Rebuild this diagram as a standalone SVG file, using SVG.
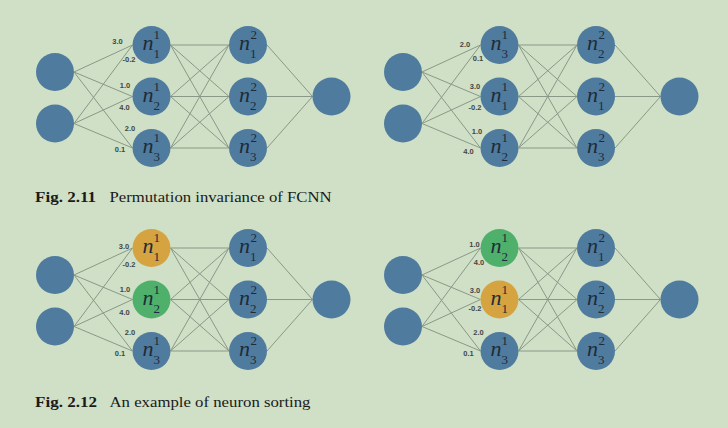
<svg xmlns="http://www.w3.org/2000/svg" xmlns:xlink="http://www.w3.org/1999/xlink" width="728" height="428" viewBox="0 0 728 428">
<style>
.bg{fill:#cfe0c6}
.b{fill:#4f7b9f}
.o{fill:#d5a441}
.g{fill:#4fb06c}
.e line{stroke:#8a9887;stroke-width:1}
.n{font-family:"Liberation Serif",serif;font-style:italic;font-size:22px;fill:#1e2b38;text-anchor:middle}
.s{font-family:"Liberation Serif",serif;font-size:13px;fill:#1e2b38}
.w{font-family:"Liberation Sans",sans-serif;font-size:7.5px;font-weight:bold;fill:#454545;text-anchor:middle}
.cb{font-family:"Liberation Serif",serif;font-weight:bold;font-size:14px;fill:#1a1a1a}
.cr{font-family:"Liberation Serif",serif;font-size:14px;fill:#1a1a1a}
</style>
<defs>
<g id="net-edges" class="e">
<line x1="74" y1="72" x2="132.5" y2="45"/>
<line x1="74" y1="72" x2="132.5" y2="96.5"/>
<line x1="74" y1="72" x2="132.5" y2="148"/>
<line x1="74" y1="123.5" x2="132.5" y2="45"/>
<line x1="74" y1="123.5" x2="132.5" y2="96.5"/>
<line x1="74" y1="123.5" x2="132.5" y2="148"/>
<line x1="170.5" y1="45" x2="229" y2="45"/>
<line x1="170.5" y1="45" x2="229" y2="96.5"/>
<line x1="170.5" y1="45" x2="229" y2="148"/>
<line x1="170.5" y1="96.5" x2="229" y2="45"/>
<line x1="170.5" y1="96.5" x2="229" y2="96.5"/>
<line x1="170.5" y1="96.5" x2="229" y2="148"/>
<line x1="170.5" y1="148" x2="229" y2="45"/>
<line x1="170.5" y1="148" x2="229" y2="96.5"/>
<line x1="170.5" y1="148" x2="229" y2="148"/>
<line x1="267" y1="45" x2="312.5" y2="96.5"/>
<line x1="267" y1="96.5" x2="312.5" y2="96.5"/>
<line x1="267" y1="148" x2="312.5" y2="96.5"/>
</g>
</defs>
<rect class="bg" x="0" y="0" width="728" height="428"/>

<g id="connectors">
<use xlink:href="#net-edges"/>
<use xlink:href="#net-edges" x="348"/>
<use xlink:href="#net-edges" y="203"/>
<use xlink:href="#net-edges" x="348" y="203"/>
</g>

<!-- Fig 2.11 left -->
<g id="tl-in1"><circle class="b" cx="55" cy="72" r="19"/></g>
<g id="tl-in2"><circle class="b" cx="55" cy="123.5" r="19"/></g>
<g id="tl-h1a"><circle class="b" cx="151.5" cy="45" r="19"/><text class="n" x="148" y="50">n</text><text class="s" x="153.5" y="39">1</text><text class="s" x="153.5" y="58">1</text></g>
<g id="tl-h1b"><circle class="b" cx="151.5" cy="96.5" r="19"/><text class="n" x="148" y="101.5">n</text><text class="s" x="153.5" y="90.5">1</text><text class="s" x="153.5" y="109.5">2</text></g>
<g id="tl-h1c"><circle class="b" cx="151.5" cy="148" r="19"/><text class="n" x="148" y="153">n</text><text class="s" x="153.5" y="142">1</text><text class="s" x="153.5" y="161">3</text></g>
<g id="tl-h2a"><circle class="b" cx="248" cy="45" r="19"/><text class="n" x="244.5" y="50">n</text><text class="s" x="250.5" y="39">2</text><text class="s" x="250" y="58">1</text></g>
<g id="tl-h2b"><circle class="b" cx="248" cy="96.5" r="19"/><text class="n" x="244.5" y="101.5">n</text><text class="s" x="250.5" y="90.5">2</text><text class="s" x="250" y="109.5">2</text></g>
<g id="tl-h2c"><circle class="b" cx="248" cy="148" r="19"/><text class="n" x="244.5" y="153">n</text><text class="s" x="250.5" y="142">2</text><text class="s" x="250" y="161">3</text></g>
<g id="tl-out"><circle class="b" cx="331.5" cy="96.5" r="19"/></g>
<g id="tl-weights">
<text class="w" x="117.5" y="43.5">3.0</text>
<text class="w" x="129" y="62">-0.2</text>
<text class="w" x="125" y="87.5">1.0</text>
<text class="w" x="124.5" y="110">4.0</text>
<text class="w" x="130" y="130.5">2.0</text>
<text class="w" x="120" y="152">0.1</text>
</g>

<!-- Fig 2.11 right -->
<g id="tr-in1"><circle class="b" cx="403" cy="72" r="19"/></g>
<g id="tr-in2"><circle class="b" cx="403" cy="123.5" r="19"/></g>
<g id="tr-h1a"><circle class="b" cx="499.5" cy="45" r="19"/><text class="n" x="496" y="50">n</text><text class="s" x="501.5" y="39">1</text><text class="s" x="501.5" y="58">3</text></g>
<g id="tr-h1b"><circle class="b" cx="499.5" cy="96.5" r="19"/><text class="n" x="496" y="101.5">n</text><text class="s" x="501.5" y="90.5">1</text><text class="s" x="501.5" y="109.5">1</text></g>
<g id="tr-h1c"><circle class="b" cx="499.5" cy="148" r="19"/><text class="n" x="496" y="153">n</text><text class="s" x="501.5" y="142">1</text><text class="s" x="501.5" y="161">2</text></g>
<g id="tr-h2a"><circle class="b" cx="596" cy="45" r="19"/><text class="n" x="592.5" y="50">n</text><text class="s" x="598.5" y="39">2</text><text class="s" x="598" y="58">2</text></g>
<g id="tr-h2b"><circle class="b" cx="596" cy="96.5" r="19"/><text class="n" x="592.5" y="101.5">n</text><text class="s" x="598.5" y="90.5">2</text><text class="s" x="598" y="109.5">1</text></g>
<g id="tr-h2c"><circle class="b" cx="596" cy="148" r="19"/><text class="n" x="592.5" y="153">n</text><text class="s" x="598.5" y="142">2</text><text class="s" x="598" y="161">3</text></g>
<g id="tr-out"><circle class="b" cx="679.5" cy="96.5" r="19"/></g>
<g id="tr-weights">
<text class="w" x="465" y="46.5">2.0</text>
<text class="w" x="478" y="61">0.1</text>
<text class="w" x="475" y="88.5">3.0</text>
<text class="w" x="475" y="110">-0.2</text>
<text class="w" x="477" y="133.5">1.0</text>
<text class="w" x="468.5" y="153.5">4.0</text>
</g>

<g id="caption-211">
<text class="cb" x="35" y="202" textLength="61" lengthAdjust="spacingAndGlyphs">Fig. 2.11</text>
<text class="cr" x="109.5" y="202" textLength="222" lengthAdjust="spacingAndGlyphs">Permutation invariance of FCNN</text>
</g>

<!-- Fig 2.12 left -->
<g id="bl-in1"><circle class="b" cx="55" cy="275" r="19"/></g>
<g id="bl-in2"><circle class="b" cx="55" cy="326.5" r="19"/></g>
<g id="bl-h1a"><circle class="o" cx="151.5" cy="248" r="19"/><text class="n" x="148" y="253">n</text><text class="s" x="153.5" y="242">1</text><text class="s" x="153.5" y="261">1</text></g>
<g id="bl-h1b"><circle class="g" cx="151.5" cy="299.5" r="19"/><text class="n" x="148" y="304.5">n</text><text class="s" x="153.5" y="293.5">1</text><text class="s" x="153.5" y="312.5">2</text></g>
<g id="bl-h1c"><circle class="b" cx="151.5" cy="351" r="19"/><text class="n" x="148" y="356">n</text><text class="s" x="153.5" y="345">1</text><text class="s" x="153.5" y="364">3</text></g>
<g id="bl-h2a"><circle class="b" cx="248" cy="248" r="19"/><text class="n" x="244.5" y="253">n</text><text class="s" x="250.5" y="242">2</text><text class="s" x="250" y="261">1</text></g>
<g id="bl-h2b"><circle class="b" cx="248" cy="299.5" r="19"/><text class="n" x="244.5" y="304.5">n</text><text class="s" x="250.5" y="293.5">2</text><text class="s" x="250" y="312.5">2</text></g>
<g id="bl-h2c"><circle class="b" cx="248" cy="351" r="19"/><text class="n" x="244.5" y="356">n</text><text class="s" x="250.5" y="345">2</text><text class="s" x="250" y="364">3</text></g>
<g id="bl-out"><circle class="b" cx="331.5" cy="299.5" r="19"/></g>
<g id="bl-weights">
<text class="w" x="124" y="248.5">3.0</text>
<text class="w" x="129" y="266.5">-0.2</text>
<text class="w" x="125" y="292">1.0</text>
<text class="w" x="124.5" y="314.5">4.0</text>
<text class="w" x="130" y="335">2.0</text>
<text class="w" x="120" y="356">0.1</text>
</g>

<!-- Fig 2.12 right -->
<g id="br-in1"><circle class="b" cx="403" cy="275" r="19"/></g>
<g id="br-in2"><circle class="b" cx="403" cy="326.5" r="19"/></g>
<g id="br-h1a"><circle class="g" cx="499.5" cy="248" r="19"/><text class="n" x="496" y="253">n</text><text class="s" x="501.5" y="242">1</text><text class="s" x="501.5" y="261">2</text></g>
<g id="br-h1b"><circle class="o" cx="499.5" cy="299.5" r="19"/><text class="n" x="496" y="304.5">n</text><text class="s" x="501.5" y="293.5">1</text><text class="s" x="501.5" y="312.5">1</text></g>
<g id="br-h1c"><circle class="b" cx="499.5" cy="351" r="19"/><text class="n" x="496" y="356">n</text><text class="s" x="501.5" y="345">1</text><text class="s" x="501.5" y="364">3</text></g>
<g id="br-h2a"><circle class="b" cx="596" cy="248" r="19"/><text class="n" x="592.5" y="253">n</text><text class="s" x="598.5" y="242">2</text><text class="s" x="598" y="261">1</text></g>
<g id="br-h2b"><circle class="b" cx="596" cy="299.5" r="19"/><text class="n" x="592.5" y="304.5">n</text><text class="s" x="598.5" y="293.5">2</text><text class="s" x="598" y="312.5">2</text></g>
<g id="br-h2c"><circle class="b" cx="596" cy="351" r="19"/><text class="n" x="592.5" y="356">n</text><text class="s" x="598.5" y="345">2</text><text class="s" x="598" y="364">3</text></g>
<g id="br-out"><circle class="b" cx="679.5" cy="299.5" r="19"/></g>
<g id="br-weights">
<text class="w" x="474.5" y="247">1.0</text>
<text class="w" x="479" y="265">4.0</text>
<text class="w" x="475" y="293">3.0</text>
<text class="w" x="475" y="310.5">-0.2</text>
<text class="w" x="478.5" y="335">2.0</text>
<text class="w" x="468.5" y="356">0.1</text>
</g>

<g id="caption-212">
<text class="cb" x="35" y="407" textLength="62" lengthAdjust="spacingAndGlyphs">Fig. 2.12</text>
<text class="cr" x="109.5" y="407" textLength="201" lengthAdjust="spacingAndGlyphs">An example of neuron sorting</text>
</g>
</svg>
